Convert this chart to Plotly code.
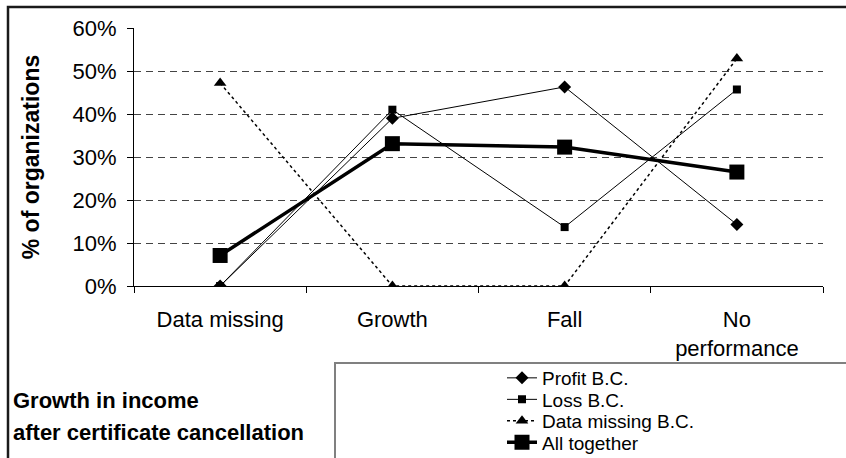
import plotly.graph_objects as go

categories = ["Data missing", "Growth", "Fall", "No<br>performance"]
profit_bc = [0.0, 0.39, 0.463, 0.143]
loss_bc = [0.0, 0.41, 0.137, 0.457]
data_missing_bc = [0.472, 0.0, 0.0, 0.529]
all_together = [0.071, 0.331, 0.323, 0.265]
y_ticks = [0, 0.1, 0.2, 0.3, 0.4, 0.5, 0.6]

W, H = 846, 458
L, R, T, B = 134, 23, 28, 172
pw, ph = W - L - R, H - T - B

def px(x):
    return (x - L) / pw

def py(y):
    return (H - B - y) / ph

font = "Arial, Liberation Sans, sans-serif"

fig = go.Figure()
fig.add_trace(go.Scatter(x=categories, y=profit_bc, name="Profit B.C.", mode="lines+markers",
                         line=dict(color="black", width=1), legend="legend",
                         marker=dict(symbol="diamond", size=10, color="black")))
fig.add_trace(go.Scatter(x=categories, y=loss_bc, name="Loss B.C.", mode="lines+markers",
                         line=dict(color="black", width=1), legend="legend2",
                         marker=dict(symbol="square", size=8, color="black")))
fig.add_trace(go.Scatter(x=categories, y=data_missing_bc, name="Data missing B.C.", mode="lines+markers",
                         line=dict(color="black", width=1.5, dash="dot"), legend="legend3",
                         marker=dict(symbol="triangle-up", size=11, color="black")))
fig.add_trace(go.Scatter(x=categories, y=all_together, name="All together", mode="lines+markers",
                         line=dict(color="black", width=3.5), legend="legend4",
                         marker=dict(symbol="square", size=15, color="black")))

shapes = [
    dict(type="rect", xref="paper", yref="paper", x0=px(335), x1=px(860), y0=py(363), y1=py(470),
         line=dict(color="#808080", width=2), fillcolor="white", layer="below"),
    dict(type="rect", xref="paper", yref="paper", x0=px(8), x1=px(870), y0=py(7), y1=py(480),
         line=dict(color="#1a1a1a", width=2.5), fillcolor="rgba(0,0,0,0)", layer="above"),
]

annotations = [
    dict(text="<b>Growth in income</b>", xref="paper", yref="paper", x=px(11), y=py(400),
         xanchor="left", yanchor="middle", showarrow=False, font=dict(size=22, color="black", family=font)),
    dict(text="<b>after certificate cancellation</b>", xref="paper", yref="paper", x=px(11), y=py(432),
         xanchor="left", yanchor="middle", showarrow=False, font=dict(size=22, color="black", family=font)),
]

leg_rows = [378, 399.5, 421, 442.5]
def leg(yc):
    return dict(x=px(502), y=py(yc), xanchor="left", yanchor="middle",
                bgcolor="rgba(0,0,0,0)", font=dict(size=19, family=font, color="black"),
                borderwidth=0, itemwidth=30)

fig.update_layout(
    width=W, height=H,
    margin=dict(l=L, r=R, t=T, b=B, autoexpand=False),
    paper_bgcolor="white", plot_bgcolor="white",
    font=dict(family=font, color="black", size=22),
    showlegend=True,
    legend=leg(leg_rows[0]), legend2=leg(leg_rows[1]),
    legend3=leg(leg_rows[2]), legend4=leg(leg_rows[3]),
    shapes=shapes,
    annotations=annotations,
    xaxis=dict(showline=True, linecolor="black", linewidth=1, ticks="outside", ticklen=6,
               tickcolor="black", tickson="boundaries", showgrid=False,
               tickfont=dict(size=22), range=[-0.5, 3.5], ticklabelstandoff=14),
    yaxis=dict(range=[0, 0.6], tickvals=y_ticks, tickformat=".0%", showline=True, linecolor="black",
               linewidth=1, ticks="outside", ticklen=6, tickcolor="black",
               showgrid=True, gridcolor="#444444", griddash="7px,5px", gridwidth=1,
               zeroline=False, tickfont=dict(size=22), ticklabelstandoff=6,
               title=dict(text="<b>% of organizations</b>", font=dict(size=23), standoff=26)),
)

fig.write_html("out.html", config={"displayModeBar": False},
               post_script="document.body.style.margin='0';")
